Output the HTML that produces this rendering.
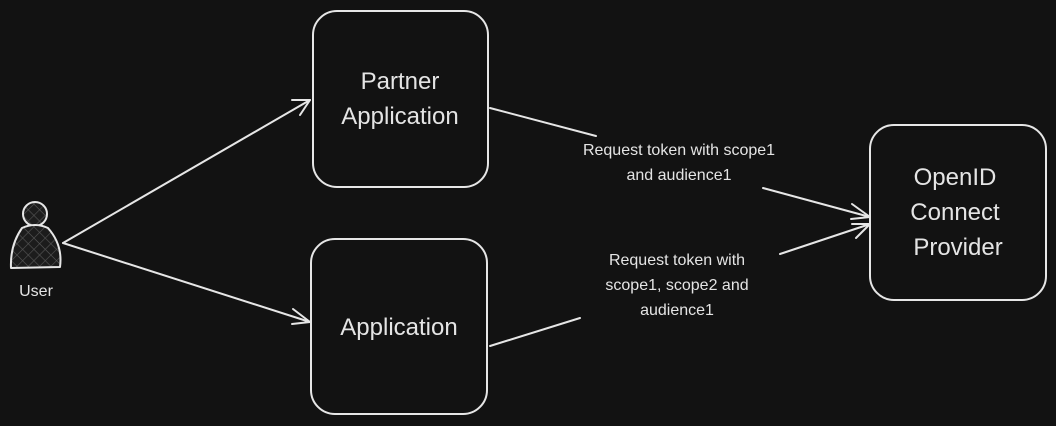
<!DOCTYPE html>
<html><head><meta charset="utf-8"><style>
html,body{margin:0;padding:0;background:#121212;}
svg{display:block}
text{font-family:"Liberation Sans",sans-serif;fill:#e4e4e4}
</style></head><body>
<svg width="1056" height="426" viewBox="0 0 1056 426" xmlns="http://www.w3.org/2000/svg">
<defs>
<pattern id="h" width="8" height="8" patternUnits="userSpaceOnUse" patternTransform="rotate(45)">
<rect width="8" height="8" fill="#1c1c1c"/>
<path d="M0 0H8M0 0V8" stroke="#555" stroke-width="1.2"/>
</pattern>
</defs>
<rect width="1056" height="426" fill="#121212"/>
<g fill="none" stroke="#e6e6e6" stroke-width="2" stroke-linecap="round" stroke-linejoin="round">
<rect x="313" y="11" width="175" height="176" rx="24"/>
<rect x="311" y="239" width="176" height="175" rx="24"/>
<rect x="870" y="125" width="176" height="175" rx="24"/>
<!-- user -->
<circle cx="35" cy="214" r="12" fill="url(#h)"/>
<path d="M22 228 Q10 245 11 268 L60 267 Q63 245 48 228 Q35 222 22 228Z" fill="url(#h)"/>
<!-- arrows -->
<path d="M63 243 L310 100"/>
<path d="M292 100 L310 100 L300 115"/>
<path d="M63 243 L310 322"/>
<path d="M293 309 L310 322 L292 324"/>
<path d="M490 108 L596 136"/>
<path d="M763 188 L870 217"/>
<path d="M852 204 L870 217 L851 219"/>
<path d="M490 346 L580 318"/>
<path d="M780 254 L870 224"/>
<path d="M852 224 L870 224 L856 238"/>
</g>
<text x="400" y="89" font-size="24" text-anchor="middle">Partner</text>
<text x="400" y="124" font-size="24" text-anchor="middle">Application</text>
<text x="399" y="335" font-size="24" text-anchor="middle">Application</text>
<text x="955" y="185" font-size="24" text-anchor="middle">OpenID</text>
<text x="955" y="220" font-size="24" text-anchor="middle">Connect</text>
<text x="958" y="255" font-size="24" text-anchor="middle">Provider</text>
<text x="36" y="296" font-size="16" text-anchor="middle">User</text>
<text x="679" y="155" font-size="16" text-anchor="middle">Request token with scope1</text>
<text x="679" y="180" font-size="16" text-anchor="middle">and audience1</text>
<text x="677" y="265" font-size="16" text-anchor="middle">Request token with</text>
<text x="677" y="290" font-size="16" text-anchor="middle">scope1, scope2 and</text>
<text x="677" y="315" font-size="16" text-anchor="middle">audience1</text>
</svg>
</body></html>
